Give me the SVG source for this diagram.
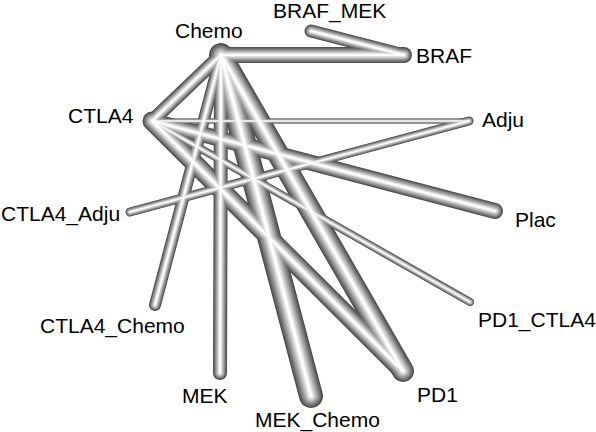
<svg xmlns="http://www.w3.org/2000/svg" xmlns:xlink="http://www.w3.org/1999/xlink" width="596" height="432" viewBox="0 0 596 432">
<style>
.lbl{font-family:"Liberation Sans",Arial,sans-serif;font-size:21px;fill:#000}
#edges use{fill:none;stroke-linecap:round}
.k0{stroke:#4c4c4c}.k1{stroke:#606060}.k2{stroke:#747474}.k3{stroke:#888888}.k4{stroke:#9c9c9c}
.k5{stroke:#b0b0b0}.k6{stroke:#c4c4c4}.k7{stroke:#d8d8d8}.k8{stroke:#ececec}.k9{stroke:#ffffff}
</style>
<defs>
<path id="e1" d="M221 55 L404 55"/>
<path id="e2" d="M404 55 L311 31"/>
<path id="e3" d="M221 55 L152 121"/>
<path id="e4" d="M221 55 L155 305"/>
<path id="e5" d="M221 55 L220 373"/>
<path id="e6" d="M221 55 L311 396"/>
<path id="e7" d="M221 55 L403 371"/>
<path id="e8" d="M152 121 L403 371"/>
<path id="e9" d="M152 121 L495 211"/>
<path id="e10" d="M152 121 L469 121"/>
<path id="e11" d="M469 121 L130 212"/>
<path id="e12" d="M152 121 L470 302"/>
</defs>
<rect width="596" height="432" fill="#fff"/>
<g id="edges">
<g class="k0">
<use href="#e1" stroke-width="16"/><use href="#e2" stroke-width="13"/><use href="#e3" stroke-width="14"/><use href="#e4" stroke-width="12"/><use href="#e5" stroke-width="14"/><use href="#e6" stroke-width="24"/><use href="#e7" stroke-width="22"/><use href="#e8" stroke-width="19"/><use href="#e9" stroke-width="16"/><use href="#e10" stroke-width="5"/><use href="#e11" stroke-width="9"/><use href="#e12" stroke-width="8"/>
</g>
<g class="k1">
<use href="#e1" stroke-width="14.4"/><use href="#e2" stroke-width="11.7"/><use href="#e3" stroke-width="12.6"/><use href="#e4" stroke-width="10.8"/><use href="#e5" stroke-width="12.6"/><use href="#e6" stroke-width="21.6"/><use href="#e7" stroke-width="19.8"/><use href="#e8" stroke-width="17.1"/><use href="#e9" stroke-width="14.4"/><use href="#e10" stroke-width="4.5"/><use href="#e11" stroke-width="8.1"/><use href="#e12" stroke-width="7.2"/>
</g>
<g class="k2">
<use href="#e1" stroke-width="12.8"/><use href="#e2" stroke-width="10.4"/><use href="#e3" stroke-width="11.2"/><use href="#e4" stroke-width="9.6"/><use href="#e5" stroke-width="11.2"/><use href="#e6" stroke-width="19.2"/><use href="#e7" stroke-width="17.6"/><use href="#e8" stroke-width="15.2"/><use href="#e9" stroke-width="12.8"/><use href="#e10" stroke-width="4"/><use href="#e11" stroke-width="7.2"/><use href="#e12" stroke-width="6.4"/>
</g>
<g class="k3">
<use href="#e1" stroke-width="11.2"/><use href="#e2" stroke-width="9.1"/><use href="#e3" stroke-width="9.8"/><use href="#e4" stroke-width="8.4"/><use href="#e5" stroke-width="9.8"/><use href="#e6" stroke-width="16.8"/><use href="#e7" stroke-width="15.4"/><use href="#e8" stroke-width="13.3"/><use href="#e9" stroke-width="11.2"/><use href="#e10" stroke-width="3.5"/><use href="#e11" stroke-width="6.3"/><use href="#e12" stroke-width="5.6"/>
</g>
<g class="k4">
<use href="#e1" stroke-width="9.6"/><use href="#e2" stroke-width="7.8"/><use href="#e3" stroke-width="8.4"/><use href="#e4" stroke-width="7.2"/><use href="#e5" stroke-width="8.4"/><use href="#e6" stroke-width="14.4"/><use href="#e7" stroke-width="13.2"/><use href="#e8" stroke-width="11.4"/><use href="#e9" stroke-width="9.6"/><use href="#e10" stroke-width="3"/><use href="#e11" stroke-width="5.4"/><use href="#e12" stroke-width="4.8"/>
</g>
<g class="k5">
<use href="#e1" stroke-width="8"/><use href="#e2" stroke-width="6.5"/><use href="#e3" stroke-width="7"/><use href="#e4" stroke-width="6"/><use href="#e5" stroke-width="7"/><use href="#e6" stroke-width="12"/><use href="#e7" stroke-width="11"/><use href="#e8" stroke-width="9.5"/><use href="#e9" stroke-width="8"/><use href="#e10" stroke-width="2.5"/><use href="#e11" stroke-width="4.5"/><use href="#e12" stroke-width="4"/>
</g>
<g class="k6">
<use href="#e1" stroke-width="6.4"/><use href="#e2" stroke-width="5.2"/><use href="#e3" stroke-width="5.6"/><use href="#e4" stroke-width="4.8"/><use href="#e5" stroke-width="5.6"/><use href="#e6" stroke-width="9.6"/><use href="#e7" stroke-width="8.8"/><use href="#e8" stroke-width="7.6"/><use href="#e9" stroke-width="6.4"/><use href="#e10" stroke-width="2"/><use href="#e11" stroke-width="3.6"/><use href="#e12" stroke-width="3.2"/>
</g>
<g class="k7">
<use href="#e1" stroke-width="4.8"/><use href="#e2" stroke-width="3.9"/><use href="#e3" stroke-width="4.2"/><use href="#e4" stroke-width="3.6"/><use href="#e5" stroke-width="4.2"/><use href="#e6" stroke-width="7.2"/><use href="#e7" stroke-width="6.6"/><use href="#e8" stroke-width="5.7"/><use href="#e9" stroke-width="4.8"/><use href="#e10" stroke-width="1.5"/><use href="#e11" stroke-width="2.7"/><use href="#e12" stroke-width="2.4"/>
</g>
<g class="k8">
<use href="#e1" stroke-width="3.2"/><use href="#e2" stroke-width="2.6"/><use href="#e3" stroke-width="2.8"/><use href="#e4" stroke-width="2.4"/><use href="#e5" stroke-width="2.8"/><use href="#e6" stroke-width="4.8"/><use href="#e7" stroke-width="4.4"/><use href="#e8" stroke-width="3.8"/><use href="#e9" stroke-width="3.2"/><use href="#e10" stroke-width="1"/><use href="#e11" stroke-width="1.8"/><use href="#e12" stroke-width="1.6"/>
</g>
<g class="k9">
<use href="#e1" stroke-width="1.6"/><use href="#e2" stroke-width="1.3"/><use href="#e3" stroke-width="1.4"/><use href="#e4" stroke-width="1.2"/><use href="#e5" stroke-width="1.4"/><use href="#e6" stroke-width="2.4"/><use href="#e7" stroke-width="2.2"/><use href="#e8" stroke-width="1.9"/><use href="#e9" stroke-width="1.6"/><use href="#e10" stroke-width="0.5"/><use href="#e11" stroke-width="0.9"/><use href="#e12" stroke-width="0.8"/>
</g>
</g>
<g id="node-BRAF_MEK"><text class="lbl" x="273" y="18">BRAF_MEK</text></g>
<g id="node-Chemo"><text class="lbl" x="175" y="38">Chemo</text></g>
<g id="node-BRAF"><text class="lbl" x="416" y="63">BRAF</text></g>
<g id="node-CTLA4"><text class="lbl" x="68" y="123">CTLA4</text></g>
<g id="node-Adju"><text class="lbl" x="482" y="127">Adju</text></g>
<g id="node-CTLA4_Adju"><text class="lbl" x="1" y="221">CTLA4_Adju</text></g>
<g id="node-Plac"><text class="lbl" x="515" y="227">Plac</text></g>
<g id="node-CTLA4_Chemo"><text class="lbl" x="40" y="333">CTLA4_Chemo</text></g>
<g id="node-PD1_CTLA4"><text class="lbl" x="478" y="327">PD1_CTLA4</text></g>
<g id="node-MEK"><text class="lbl" x="182" y="403">MEK</text></g>
<g id="node-MEK_Chemo"><text class="lbl" x="255" y="427">MEK_Chemo</text></g>
<g id="node-PD1"><text class="lbl" x="417" y="402">PD1</text></g>
</svg>
